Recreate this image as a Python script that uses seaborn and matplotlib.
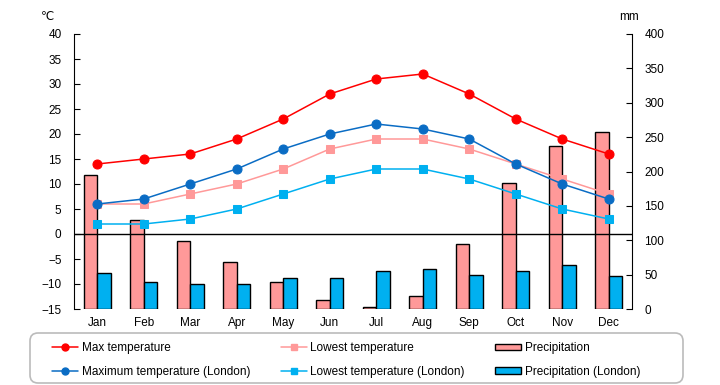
import numpy as np
import pandas as pd
import seaborn as sns
import matplotlib.pyplot as plt
from matplotlib.lines import Line2D
from matplotlib.patches import Patch, FancyBboxPatch

# Data
months = ["Jan", "Feb", "Mar", "Apr", "May", "Jun", "Jul", "Aug", "Sep", "Oct", "Nov", "Dec"]
max_temp = [14, 15, 16, 19, 23, 28, 31, 32, 28, 23, 19, 16]
low_temp = [6, 6, 8, 10, 13, 17, 19, 19, 17, 14, 11, 8]
max_temp_london = [6, 7, 10, 13, 17, 20, 22, 21, 19, 14, 10, 7]
low_temp_london = [2, 2, 3, 5, 8, 11, 13, 13, 11, 8, 5, 3]
precip = [195, 130, 99, 69, 40, 13, 3, 19, 94, 183, 237, 258]
precip_london = [52, 39, 36, 37, 45, 45, 55, 58, 49, 56, 64, 48]

sns.set_style("white")
plt.rcParams["font.family"] = ["Liberation Sans", "DejaVu Sans"]
plt.rcParams["text.color"] = "black"
plt.rcParams["xtick.color"] = "black"
plt.rcParams["ytick.color"] = "black"

RED = "#FF0000"
PINK = "#FF9999"
BLUE = "#0A6CC4"
CYAN = "#00B0F0"
BG = "#FFFFCC"

fig = plt.figure(figsize=(7.2, 3.85), dpi=100)
ax = fig.add_axes([74 / 720, 1 - 309 / 385, 558 / 720, 275 / 385])
ax2 = ax.twinx()

# bars behind, lines in front
ax2.set_zorder(ax.get_zorder() - 1)
ax.patch.set_visible(False)
ax2.patch.set_facecolor(BG)

idx = np.arange(len(months))
precip_df = pd.DataFrame({
    "month": np.concatenate([idx, idx]),
    "series": ["Precipitation"] * 12 + ["Precipitation (London)"] * 12,
    "mm": precip + precip_london,
})
sns.barplot(data=precip_df, x="month", y="mm", hue="series", ax=ax2,
            palette={"Precipitation": PINK, "Precipitation (London)": CYAN},
            width=0.58, edgecolor="black", linewidth=1, saturation=1)
if ax2.get_legend() is not None:
    ax2.get_legend().remove()

lines = [
    (max_temp, RED, "o", 6.5),
    (low_temp, PINK, "s", 6),
    (max_temp_london, BLUE, "o", 6.5),
    (low_temp_london, CYAN, "s", 6),
]
for vals, col, mk, ms in lines:
    sns.lineplot(x=idx, y=vals, ax=ax, color=col, marker=mk, markersize=ms,
                 markeredgecolor=col, linewidth=1.1)

ax.axhline(0, color="black", linewidth=1)

ax.set_xlim(-0.5, 11.5)
ax.set_ylim(-15, 40)
ax.set_yticks(range(-15, 41, 5))
ax2.set_ylim(0, 400)
ax2.set_yticks(range(0, 401, 50))
ax.set_xticks(idx)
ax.set_xticklabels(months)
for a in (ax, ax2):
    a.set_xlabel("")
    a.set_ylabel("")
    for s in ("top", "bottom"):
        a.spines[s].set_visible(False)
ax.spines["right"].set_visible(False)
ax.spines["left"].set_color("black")
ax2.spines["left"].set_visible(False)
ax2.spines["right"].set_color("black")

ax.tick_params(axis="y", direction="in", length=4, labelsize=8.5, pad=9)
ax.tick_params(axis="x", length=0, labelsize=8.5, pad=6)
ax2.tick_params(axis="y", direction="in", length=4, labelsize=8.5, pad=9)
ax2.tick_params(axis="x", length=0)

fig.text(48 / 720, 1 - 17 / 385, "℃", fontsize=8.5, ha="center", va="center")
fig.text(629 / 720, 1 - 17 / 385, "mm", fontsize=8.5, ha="center", va="center")

# legend frame drawn separately so the columns can sit where they do in the reference
frame = FancyBboxPatch((0.30, 0.02), 6.53, 0.50, boxstyle="round,pad=0,rounding_size=0.08",
                       transform=fig.dpi_scale_trans, facecolor="white",
                       edgecolor="#BBBBBB", linewidth=1.2)
fig.patches.append(frame)

handles = [
    Line2D([], [], color=RED, marker="o", markersize=5, lw=1.1),
    Line2D([], [], color=BLUE, marker="o", markersize=5, lw=1.1),
    Line2D([], [], color=PINK, marker="s", markersize=5, lw=1.1),
    Line2D([], [], color=CYAN, marker="s", markersize=5, lw=1.1),
    Patch(facecolor=PINK, edgecolor="black", lw=1),
    Patch(facecolor=CYAN, edgecolor="black", lw=1),
]
labels = ["Max temperature", "Maximum temperature (London)",
          "Lowest temperature", "Lowest temperature (London)",
          "Precipitation", "Precipitation (London)"]
leg = fig.legend(handles, labels, ncol=3, loc="center left",
                 bbox_to_anchor=(52 / 720, 1 - 360 / 385),
                 fontsize=8.5, frameon=False,
                 handlelength=2.2, handleheight=0.5, handletextpad=0.3,
                 labelspacing=1.0, columnspacing=2.6, borderpad=0, borderaxespad=0)

fig.savefig("out.png", dpi=100)
